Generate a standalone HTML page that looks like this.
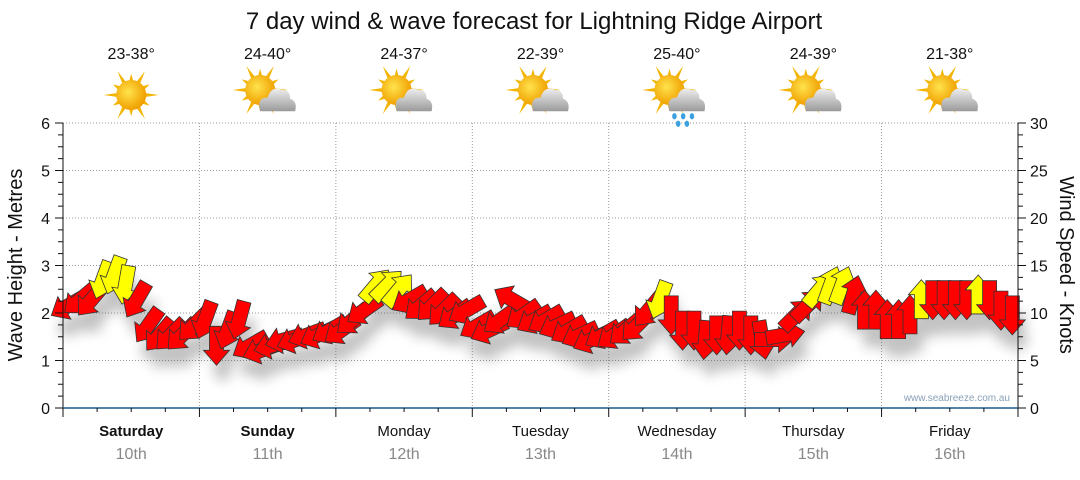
<!DOCTYPE html>
<html><head><meta charset="utf-8"><style>
body{margin:0;background:#fff;font-family:"Liberation Sans",sans-serif}
svg text{font-family:"Liberation Sans",sans-serif}
</style></head><body>
<svg id="c" width="1080" height="475" viewBox="0 0 1080 475" xmlns="http://www.w3.org/2000/svg">
<defs>
<filter id="sh" x="-50%" y="-50%" width="200%" height="200%"><feGaussianBlur stdDeviation="6"/></filter>
<radialGradient id="sun" cx="0.4" cy="0.4" r="0.6"><stop offset="0" stop-color="#ffe34d"/><stop offset="1" stop-color="#f0a000"/></radialGradient>
<linearGradient id="cloud" x1="0" y1="0" x2="0" y2="1"><stop offset="0" stop-color="#eeeeee"/><stop offset="1" stop-color="#9a9a9a"/></linearGradient>
</defs>
<text x="534" y="29" font-size="24" text-anchor="middle" fill="#111">7 day wind &amp; wave forecast for Lightning Ridge Airport</text>
<g id="grid"></g>
<g id="shadows" filter="url(#sh)" opacity="0.35"></g>
<g id="arrows"></g>
<g id="axes"></g>
<g id="icons"></g>
<text transform="translate(22,265) rotate(-90)" font-size="20" text-anchor="middle" fill="#111">Wave Height - Metres</text>
<text transform="translate(1060,265) rotate(90)" font-size="20" text-anchor="middle" fill="#111">Wind Speed - Knots</text>
<text x="1010" y="401" font-size="10" text-anchor="end" fill="#8aa0b8">www.seabreeze.com.au</text>
</svg>
<script>
const days=["Saturday","Sunday","Monday","Tuesday","Wednesday","Thursday","Friday"];
const dates=["10th","11th","12th","13th","14th","15th","16th"];
const temps=["23-38°","24-40°","24-37°","22-39°","25-40°","24-39°","21-38°"];
const icons=["sun","cloud","cloud","cloud","rain","cloud","cloud"];
const waveTicks=[0,1,2,3,4,5,6];
const windTicks=[0,5,10,15,20,25,30];
const speeds=[10.8,11.4,11.4,13.5,14,13,11.4,8.7,7.7,7.7,7.7,8.7,
9.3,6.6,8.2,9.3,6.6,6.1,6.6,7.2,7.2,7.7,7.7,8.2,
8.2,9.3,10.3,12.9,12.9,12.4,11.4,10.8,10.8,10.3,9.8,10.3,
8.7,8.2,9.3,11.4,9.8,9.3,9.3,8.7,8.2,7.7,7.2,7.7,
7.7,8.2,8.7,10.3,11.4,9.8,8.2,8.2,7.2,7.7,7.7,8.2,
7.7,7.2,7.2,7.7,9.8,10.8,12.4,12.9,12.9,11.9,10.3,10.3,
9.3,9.3,9.8,11.4,11.4,11.4,11.4,11.4,11.9,11.4,10.3,9.8];
const dirs=[240,230,220,200,200,190,210,215,220,225,225,225,
200,180,200,195,240,250,255,255,250,250,245,240,
235,230,235,40,45,40,240,230,225,225,235,240,
240,245,235,300,235,240,240,245,240,245,245,240,
235,230,225,220,200,180,180,180,185,180,185,180,
180,170,90,80,45,45,40,20,20,15,0,0,
0,0,0,0,180,180,180,180,0,180,180,180];
const strong=[0,0,0,1,1,1,0,0,0,0,0,0, 0,0,0,0,0,0,0,0,0,0,0,0, 0,0,0,1,1,1,0,0,0,0,0,0,
0,0,0,0,0,0,0,0,0,0,0,0, 0,0,0,0,1,0,0,0,0,0,0,0, 0,0,0,0,0,0,1,1,1,0,0,0, 0,0,0,1,0,0,0,0,1,0,0,0];
const X0=63,X1=1018,Y0=408,Y1=123,HOURS=168;
const xT=h=>X0+(X1-X0)*h/HOURS;
const yM=m=>Y0-(Y0-Y1)*m/6;
const yK=k=>Y0-(Y0-Y1)*k/30;
const NS="http://www.w3.org/2000/svg";
function mk(p,t,a){const e=document.createElementNS(NS,t);for(const k in a)e.setAttribute(k,a[k]);p.appendChild(e);return e;}
const grid=document.getElementById('grid'),axes=document.getElementById('axes'),arr=document.getElementById('arrows'),sh=document.getElementById('shadows'),ic=document.getElementById('icons');
waveTicks.forEach(m=>{
 if(m>0){const l=mk(grid,'line',{x1:X0,x2:X1,y1:yM(m),y2:yM(m),stroke:'#999','stroke-dasharray':'1,2'});
 
 }
 const t=mk(axes,'text',{x:50,y:yM(m)+6,'font-size':16,'text-anchor':'end',fill:'#111'});t.textContent=m;
 
 
});
for(let i=0;i<=24;i++){const y=yM(i/4);mk(axes,'line',{x1:X0-(i%4?5:8),x2:X0,y1:y,y2:y,stroke:'#111'});mk(axes,'line',{x1:X1,x2:X1+(i%4?5:8),y1:y,y2:y,stroke:'#111'});}
windTicks.forEach(k=>{const t=mk(axes,'text',{x:1030,y:yK(k)+6,'font-size':16,fill:'#111'});t.textContent=k;
 
 });
mk(axes,'line',{x1:X0,x2:X0,y1:Y1,y2:Y0,stroke:'#111'});
mk(axes,'line',{x1:X1,x2:X1,y1:Y1,y2:Y0,stroke:'#111'});
mk(axes,'line',{x1:X0,x2:X1,y1:Y0,y2:Y0,stroke:'#1a5a8a','stroke-width':1.5});
for(let h=0;h<=HOURS;h+=6){const x=xT(h);mk(axes,'line',{x1:x,x2:x,y1:Y0,y2:Y0+(h%24?4:9),stroke:'#111'});
 if(h%24==0&&h>0&&h<HOURS){const g=mk(grid,'line',{x1:x,x2:x,y1:Y1,y2:Y0,stroke:'#999','stroke-dasharray':'1,2'});
 
 }}
days.forEach((d,i)=>{const cx=xT(i*24+12);
 const t=mk(axes,'text',{x:cx,y:436,'font-size':15,'text-anchor':'middle',fill:'#111','font-weight':i<2?'bold':'normal'});t.textContent=d;
 
 
 const t2=mk(axes,'text',{x:cx,y:459,'font-size':16,'text-anchor':'middle',fill:'#888'});t2.textContent=dates[i];
 
 
 const t3=mk(ic,'text',{x:cx,y:59,'font-size':16,'text-anchor':'middle',fill:'#111'});t3.textContent=temps[i];
 
 
 const g=mk(ic,'g',{transform:`translate(${cx},95) scale(1.25)`});
 
 
 const sx=icons[i]=='sun'?0:-6,sy=icons[i]=='sun'?0:-4;
 for(let a=0;a<360;a+=30){const r=a*Math.PI/180,L=(a/30)%2?17:22;
  mk(g,'polygon',{points:`${sx+Math.cos(r-0.15)*11},${sy+Math.sin(r-0.15)*11} ${sx+Math.cos(r)*L},${sy+Math.sin(r)*L} ${sx+Math.cos(r+0.15)*11},${sy+Math.sin(r+0.15)*11}`,fill:'#f3b400'});}
 mk(g,'circle',{cx:sx,cy:sy,r:12,fill:'url(#sun)'});
 if(icons[i]!='sun'){
  mk(g,'path',{d:'M-6,13 Q-9,2 0,2 Q3,-8 12,-4 Q18,-4 18,3 Q24,5 22,13 Z',fill:'url(#cloud)'});
  if(icons[i]=='rain'){[[-2,17],[5,17],[12,17],[1,23],[8,23]].forEach(p=>mk(g,'ellipse',{cx:p[0],cy:p[1],rx:1.8,ry:2.5,fill:'#3aa0e0'}));}
 }
});
speeds.forEach((s,i)=>{
 const x=xT(i*2+1),y=yK(s),d=dirs[i];
 const pts="0,-20 13,-5 7,-5 7,19 -7,19 -7,-5 -13,-5";
 mk(sh,'polygon',{points:pts,transform:`translate(${x+6},${y+18}) rotate(${d})`,fill:'#555'});
 const p=mk(arr,'polygon',{points:pts,transform:`translate(${x},${y}) rotate(${d})`,fill:strong[i]?'#ffff00':'#ff0000',stroke:'#333','stroke-width':0.8});
 
 
});
</script>
</body></html>
